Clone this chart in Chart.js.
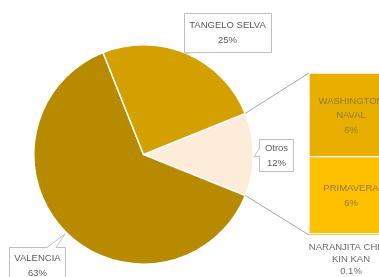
<!DOCTYPE html>
<html>
<head>
<meta charset="utf-8">
<script src="https://cdn.jsdelivr.net/npm/chart.js@4.4.0/dist/chart.umd.min.js"></script>
<style>
  html, body { margin: 0; padding: 0; background: #fff; overflow: hidden; }
  #wrap { position: relative; width: 379px; height: 277px; overflow: hidden; }
  #pie { position: absolute; left: 0; top: 0; }
  #bar { position: absolute; left: 300px; top: 0; }
</style>
</head>
<body>
<div id="wrap">
  <canvas id="pie" width="379" height="277"></canvas>
  <canvas id="bar" width="100" height="277"></canvas>
</div>
<script>
/* ==================
    DATOS
================== */
const barLabels = [['NARANJITA CHINA', 'KIN KAN'], ['PRIMAVERA'], ['WASHINGTON', 'NAVAL']];
const barValues = [0.1, 5.8, 6.3];
const barColors = ['#F5BA00', '#FFC000', '#E9AF00'];

const otros = barValues.reduce((a, b) => a + b, 0);
const pieLabels = [['Otros'], ['VALENCIA'], ['TANGELO SELVA']];
const pieValues = [otros, 62.9, 24.9];
const pieColors = ['#FDECD9', '#B88A00', '#D4A000'];

const total = pieValues.reduce((a, b) => a + b, 0);
const pct = v => {
    const p = v / total * 100;
    return (p < 1 ? p.toFixed(1) : Math.round(p)) + '%';
};

const FONT = '9.5px "Liberation Sans", Arial, sans-serif';

/* ==================
    GRAFICA DE BARRA
================== */
const barChart = new Chart(document.getElementById('bar'), {
    type: 'bar',
    data: {
        labels: ['Otros'],
        datasets: barValues.map((v, i) => ({
            label: barLabels[i].join(' '),
            data: [v],
            backgroundColor: barColors[i],
            borderColor: '#fff',
            borderWidth: 1,
            borderSkipped: false,
            barPercentage: 1,
            categoryPercentage: 1
        }))
    },
    options: {
        responsive: false,
        animation: false,
        layout: { padding: { left: 9, right: 9, top: 73, bottom: 42 } },
        plugins: { legend: { display: false }, tooltip: { enabled: false } },
        scales: {
            x: { display: false, stacked: true },
            y: { display: false, stacked: true, min: 0, max: otros }
        }
    },
    plugins: [{
        id: 'etiquetasBarra',
        afterDraw(chart) {
            const ctx = chart.ctx;
            ctx.save();
            ctx.font = FONT;
            ctx.textAlign = 'center';
            ctx.textBaseline = 'middle';
            barValues.forEach((v, i) => {
                const el = chart.getDatasetMeta(i).data[0];
                const lines = [...barLabels[i], pct(v)];
                let cy, step;
                if (i === 0) {
                    // el segmento pequeño lleva la etiqueta debajo
                    ctx.fillStyle = '#6b6b6b';
                    cy = el.base + 12;
                    step = 12.3;
                } else {
                    ctx.fillStyle = '#8f7a3c';
                    step = 14.6;
                    cy = (el.y + el.base) / 2 - (lines.length - 1) * step / 2 + 1;
                }
                lines.forEach((t, k) => ctx.fillText(t, el.x + 1, cy + k * step));
            });
            ctx.restore();
        }
    }]
});

/* ==================
    GRAFICA DE PASTEL
================== */
function callout(ctx, box, tail, lines, cx, cy) {
    const { x, y, w, h } = box;
    const [a, b, tip, side] = tail;
    const pts = [[x, y]];
    if (side === 'top') pts.push([a, y], tip, [b, y]);
    pts.push([x + w, y], [x + w, y + h]);
    if (side === 'bottom') pts.push([b, y + h], tip, [a, y + h]);
    pts.push([x, y + h]);
    if (side === 'left') pts.push([x, b], tip, [x, a]);
    ctx.beginPath();
    pts.forEach((p, i) => i ? ctx.lineTo(p[0], p[1]) : ctx.moveTo(p[0], p[1]));
    ctx.closePath();
    ctx.fillStyle = '#fff';
    ctx.fill();
    ctx.strokeStyle = '#BFBFBF';
    ctx.lineWidth = 1;
    ctx.stroke();
    ctx.fillStyle = '#595959';
    lines.forEach((t, k) => ctx.fillText(t, cx, cy + k * 15));
}

new Chart(document.getElementById('pie'), {
    type: 'pie',
    data: {
        labels: pieLabels.map(l => l.join(' ')),
        datasets: [{
            data: pieValues,
            backgroundColor: pieColors,
            borderColor: '#fff',
            borderWidth: 1.5
        }]
    },
    options: {
        responsive: false,
        animation: false,
        rotation: 68,
        layout: { padding: { left: 33, top: 44, right: 125, bottom: 12 } },
        plugins: { legend: { display: false }, tooltip: { enabled: false } }
    },
    plugins: [{
        id: 'conectoresYEtiquetas',
        afterDraw(chart) {
            const ctx = chart.ctx;
            const arc = chart.getDatasetMeta(0).data[0];
            const r = arc.outerRadius;
            const p1 = [arc.x + r * Math.cos(arc.startAngle), arc.y + r * Math.sin(arc.startAngle)];
            const p2 = [arc.x + r * Math.cos(arc.endAngle), arc.y + r * Math.sin(arc.endAngle)];
            const top = barChart.getDatasetMeta(barValues.length - 1).data[0];
            const bot = barChart.getDatasetMeta(0).data[0];
            const bx = 300 + top.x - top.width / 2;

            ctx.save();
            ctx.strokeStyle = '#A6A6A6';
            ctx.lineWidth = 1;
            ctx.beginPath();
            ctx.moveTo(p1[0], p1[1]);
            ctx.lineTo(bx, top.y);
            ctx.moveTo(p2[0], p2[1]);
            ctx.lineTo(bx, bot.base);
            ctx.stroke();

            ctx.font = FONT;
            ctx.textAlign = 'center';
            ctx.textBaseline = 'middle';
            callout(ctx, { x: 184.5, y: 13.5, w: 87, h: 39 }, [189, 198, [185, 53], 'bottom'],
                [...pieLabels[2], pct(pieValues[2])], 227.5, 25.5);
            callout(ctx, { x: 259.5, y: 139.5, w: 34, h: 32 }, [148, 156, [254, 157], 'left'],
                [...pieLabels[0], pct(pieValues[0])], 276.5, 148.5);
            callout(ctx, { x: 9.5, y: 247.5, w: 56, h: 40 }, [47, 56, [65, 234], 'top'],
                [...pieLabels[1], pct(pieValues[1])], 37.5, 258.5);
            ctx.restore();
        }
    }]
});
</script>
</body>
</html>
